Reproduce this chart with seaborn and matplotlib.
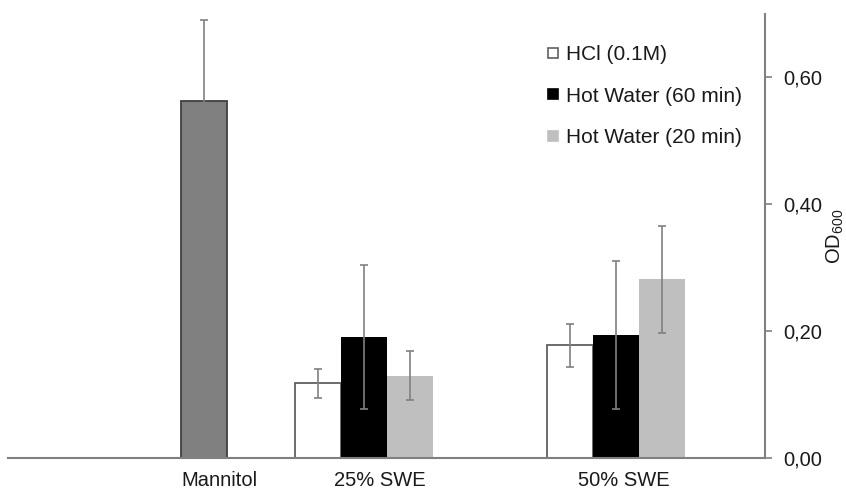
import matplotlib
matplotlib.use("Agg")
import matplotlib.pyplot as plt
import matplotlib.colors as mcolors
from matplotlib.lines import Line2D
from matplotlib.ticker import FuncFormatter
import pandas as pd
import seaborn as sns

# Data (OD600, mean and error)
groups = ["Mannitol", "25% SWE", "50% SWE"]
treatments = ["Mannitol", "HCl (0.1M)", "Hot Water (60 min)", "Hot Water (20 min)"]

mannitol_od = [0.5625]
mannitol_err = [0.1285]
hcl_od = [0.1175, 0.1775]
hcl_err = [0.0235, 0.0345]
hw60_od = [0.191, 0.1935]
hw60_err = [0.114, 0.1165]
hw20_od = [0.1295, 0.2815]
hw20_err = [0.0385, 0.0845]

yticks = [0.0, 0.2, 0.4, 0.6]

# Layout (in bar-width units along the x axis)
group_center = {"Mannitol": 4.27, "25% SWE": 7.74, "50% SWE": 13.22}
bar_offset = {"Mannitol": 0, "HCl (0.1M)": -1, "Hot Water (60 min)": 0, "Hot Water (20 min)": 1}
label_shift = [0.33, 0.34, 0.16]

face = {"Mannitol": "#808080", "HCl (0.1M)": "#ffffff",
        "Hot Water (60 min)": "#000000", "Hot Water (20 min)": "#bfbfbf"}
edge = {"Mannitol": "#404040", "HCl (0.1M)": "#606060",
        "Hot Water (60 min)": "#000000", "Hot Water (20 min)": "#bfbfbf"}

rows = []
rows.append(("Mannitol", "Mannitol", mannitol_od[0], mannitol_err[0]))
for i, g in enumerate(groups[1:]):
    rows.append((g, "HCl (0.1M)", hcl_od[i], hcl_err[i]))
    rows.append((g, "Hot Water (60 min)", hw60_od[i], hw60_err[i]))
    rows.append((g, "Hot Water (20 min)", hw20_od[i], hw20_err[i]))
df = pd.DataFrame(rows, columns=["group", "treatment", "od", "err"])
df["pos"] = df["group"].map(group_center) + df["treatment"].map(bar_offset)

sns.set_style("white")
plt.rcParams["font.family"] = ["Liberation Sans", "DejaVu Sans"]
plt.rcParams["mathtext.fontset"] = "custom"
plt.rcParams["mathtext.rm"] = "Liberation Sans"
plt.rcParams["mathtext.it"] = "Liberation Sans:italic"

W, H = 846, 490
fig = plt.figure(figsize=(W / 100, H / 100), dpi=100)
ax = fig.add_axes([8 / W, 1 - 458 / H, (765 - 8) / W, (458 - 14) / H])

sns.barplot(data=df, x="pos", y="od", hue="treatment", hue_order=treatments,
            palette=face, native_scale=True, width=1.0, errorbar=None,
            legend=False, linewidth=0, ax=ax)

hex_to_edge = {mcolors.to_hex(face[t]): edge[t] for t in treatments}
for p in ax.patches:
    fc = mcolors.to_hex(p.get_facecolor())
    p.set_edgecolor(hex_to_edge.get(fc, "none"))
    p.set_linewidth(1.3 if fc in ("#ffffff", "#808080") else 0)
    p.set_zorder(2)

ax.errorbar(df["pos"], df["od"], yerr=df["err"], fmt="none", ecolor="#808080",
            elinewidth=1.2, capsize=3, capthick=1.2, zorder=3)

ax.set_xlim(0, 16.46)
ax.set_ylim(0, 0.70)

ax.set_xticks([group_center[g] + s for g, s in zip(groups, label_shift)])
ax.set_xticklabels(groups)
ax.tick_params(axis="x", length=0, pad=9, labelsize=14.5, colors="#1a1a1a")
ax.set_xlabel("")

ax.yaxis.tick_right()
ax.yaxis.set_label_position("right")
ax.set_yticks(yticks)
ax.yaxis.set_major_formatter(FuncFormatter(lambda v, _: f"{v:.2f}".replace(".", ",")))
ax.tick_params(axis="y", right=True, left=False, length=5, width=1.2,
               color="#808080", pad=8, labelsize=14.5, labelcolor="#1a1a1a")
ax.set_ylabel(r"$\mathrm{OD}_{600}$", fontsize=14.5, color="#1a1a1a",
              rotation=90, labelpad=2)

for s in ["left", "top"]:
    ax.spines[s].set_visible(False)
for s in ["right", "bottom"]:
    ax.spines[s].set_color("#808080")
    ax.spines[s].set_linewidth(1.5)

handles = [Line2D([], [], marker="s", ls="none", markersize=7.5,
                  markerfacecolor=face[t], markeredgecolor=edge[t],
                  markeredgewidth=1.2) for t in treatments[1:]]
leg = ax.legend(handles, treatments[1:], loc="upper left",
                bbox_to_anchor=((547 - 8) / 757, (458 - 45) / 444),
                frameon=False, fontsize=15, handlelength=0.6,
                handletextpad=0.3, labelspacing=1.08, borderpad=0,
                borderaxespad=0)
for t in leg.get_texts():
    t.set_color("#1a1a1a")

fig.savefig("out.png", dpi=100)
